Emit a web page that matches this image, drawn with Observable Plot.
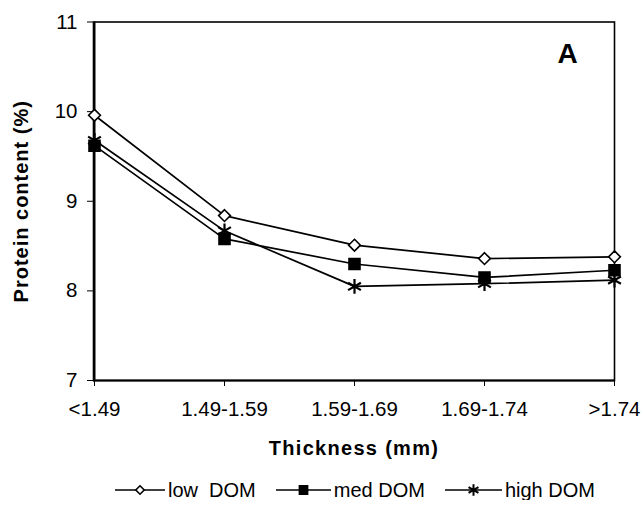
<!DOCTYPE html>
<html><head><meta charset="utf-8">
<script src="https://cdn.jsdelivr.net/npm/d3@7"></script>
<script src="https://cdn.jsdelivr.net/npm/@observablehq/plot@0.6"></script>
<style>
body{margin:0;background:#fff;font-family:"Liberation Sans",Arial,sans-serif;}
#legend{display:flex;align-items:center;height:20px;padding-left:115px;font-size:20px;color:#000;white-space:pre;}
#legend .item{display:flex;align-items:center;margin-right:20px;}
#legend svg{margin-right:3px;}
</style>
</head><body>
<div id="chart"></div>
<div id="legend"></div>
<script>
const categories = ["<1.49", "1.49-1.59", "1.59-1.69", "1.69-1.74", ">1.74"];
const lowDOM = [9.96, 8.84, 8.51, 8.36, 8.38];
const medDOM = [9.62, 8.58, 8.30, 8.15, 8.23];
const highDOM = [9.68, 8.67, 8.05, 8.08, 8.12];
const seriesNames = ["low  DOM", "med DOM", "high DOM"];
const yTicks = [7, 8, 9, 10, 11];
const xLabel = "Thickness (mm)";
const yLabel = "Protein content (%)";
const panelLabel = "A";

const seriesValues = [lowDOM, medDOM, highDOM];
const symbols = ["diamond2", "square", "asterisk"];
const fills = ["white", "black", "none"];
const radii = [5.3, 6.2, 7.0];
const legendRadii = [3.8, 4.6, 5.4];
const legendWidths = [50, 55, 57];

const data = [];
seriesNames.forEach((s, i) => categories.forEach((c, j) => data.push({series: s, cat: c, value: seriesValues[i][j]})));

const marks = [
  Plot.frame({stroke: "black", strokeWidth: 1.6}),
  Plot.ruleY([7], {stroke: "black", strokeWidth: 2}),
  Plot.ruleX([categories[0]], {stroke: "black", strokeWidth: 2}),
  Plot.axisY({ticks: yTicks, tickSize: 6, tickPadding: 10, fontSize: 20.5, label: null, tickFormat: d => String(d)}),
  Plot.axisX({tickSize: 6, tickPadding: 15, fontSize: 20.5, label: null}),
];
seriesNames.forEach((s, i) => {
  const d = data.filter(r => r.series === s);
  marks.push(Plot.line(d, {x: "cat", y: "value", stroke: "black", strokeWidth: 1.7}));
});
seriesNames.forEach((s, i) => {
  const d = data.filter(r => r.series === s);
  marks.push(Plot.dot(d, {x: "cat", y: "value", symbol: () => symbols[i], r: radii[i], fill: fills[i], stroke: "black", strokeWidth: i === 2 ? 2.2 : 1.6}));
});
marks.push(
  Plot.text([xLabel], {frameAnchor: "bottom", dy: 68, text: d => d, fontSize: 20, fontWeight: "bold", textAnchor: "middle", lineAnchor: "middle"}),
  Plot.text([yLabel], {frameAnchor: "left", dx: -72, text: d => d, rotate: -90, fontSize: 20, fontWeight: "bold", textAnchor: "middle", lineAnchor: "middle"}),
  Plot.text([panelLabel], {frameAnchor: "top-right", dx: -47, dy: 32, text: d => d, fontSize: 28, fontWeight: "bold", textAnchor: "middle", lineAnchor: "middle"})
);

const chart = Plot.plot({
  width: 643,
  height: 480,
  marginLeft: 93,
  marginRight: 29,
  marginTop: 21.5,
  marginBottom: 100,
  style: {fontFamily: "'Liberation Sans', Arial, sans-serif", color: "black", background: "white", overflow: "visible"},
  x: {type: "point", domain: categories, padding: 0},
  y: {domain: [7, 11]},
  symbol: {type: "identity"},
  marks
});
d3.select(chart).selectAll("text").each(function() {
  const t = this.textContent;
  if (t === xLabel) d3.select(this).style("letter-spacing", "1.3px");
  if (t === yLabel) d3.select(this).style("letter-spacing", "1px");
});
document.getElementById("chart").appendChild(chart);

// legend
const legend = d3.select("#legend");
seriesNames.forEach((s, i) => {
  const w = legendWidths[i];
  const item = legend.append("div").attr("class", "item");
  const svg = item.append("svg").attr("width", w).attr("height", 20);
  svg.append("line").attr("x1", 0).attr("x2", w).attr("y1", 10).attr("y2", 10).attr("stroke", "black").attr("stroke-width", 1.6);
  svg.append("path").attr("transform", `translate(${w / 2},10)`)
    .attr("d", d3.symbol(i === 0 ? d3.symbolDiamond2 : i === 1 ? d3.symbolSquare : d3.symbolAsterisk, Math.PI * legendRadii[i] * legendRadii[i])())
    .attr("fill", fills[i]).attr("stroke", "black").attr("stroke-width", i === 2 ? 2 : 1.6);
  item.append("span").text(s);
});
</script>
</body></html>
